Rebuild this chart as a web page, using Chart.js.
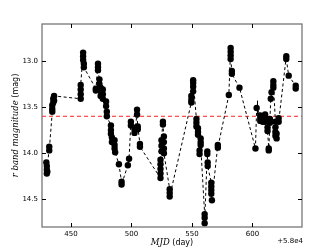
<!DOCTYPE html>
<html>
<head>
<meta charset="utf-8">
<script src="https://cdn.jsdelivr.net/npm/chart.js@4/dist/chart.umd.min.js"></script>
<style>
  html, body { margin: 0; padding: 0; background: #fff; }
  canvas { display: block; }
</style>
</head>
<body>
<canvas id="lc" width="336" height="252"></canvas>
<script>
// MJD - 58000 (day) and r band magnitude
const mjd = [
  429.6, 430.0, 430.0, 430.4, 430.0,
  432.0, 432.0,
  434.5, 434.5, 434.5, 435.3, 435.3, 436.0, 436.0,
  458.0, 458.0, 458.0, 458.0,
  460.0, 460.0, 460.0, 460.6, 460.6,
  470.5, 470.5,
  472.3, 472.3, 472.3,
  473.5, 473.5,
  474.5, 474.5, 474.5,
  476.3, 476.3, 476.3,
  479.0, 479.0, 479.6, 479.6,
  483.0, 483.0, 483.0, 483.8, 483.8,
  486.0, 486.0, 486.0, 486.5,
  489.6,
  491.8, 491.8,
  497.0, 498.0,
  499.5, 499.5,
  502.5, 502.5, 503.5,
  504.6, 504.6,
  505.2, 505.2,
  507.0, 507.0,
  524.0, 524.0, 524.0, 524.0, 524.0,
  524.8, 524.8, 524.8,
  526.0, 526.0,
  526.8, 526.8, 526.8, 526.8,
  531.6, 531.6, 531.6,
  549.5, 549.5, 549.5,
  551.0, 551.0, 551.0, 551.0,
  553.7, 553.7, 553.7,
  555.0, 555.0, 555.0,
  556.3, 556.3,
  557.2, 557.2, 557.2,
  560.5, 560.5, 560.5,
  562.7, 562.7, 563.0, 563.0,
  566.0, 566.0, 566.0, 566.0, 566.5,
  571.4, 571.4,
  580.5,
  582.0, 582.0, 582.0, 582.0,
  583.0, 583.0,
  589.3,
  602.5,
  603.5,
  606.5, 606.5, 606.5,
  608.5, 608.5,
  610.5, 610.5, 610.5,
  612.5, 612.5,
  613.5, 613.5,
  614.5, 614.5,
  615.2, 615.8,
  617.3, 617.3, 617.3,
  619.0, 619.0, 619.0, 619.0,
  620.0, 620.0,
  621.7, 621.7,
  628.0, 628.0,
  630.0,
  635.8, 635.8
];
const mag = [
  14.10, 14.14, 14.18, 14.20, 14.22,
  13.93, 13.97,
  13.55, 13.52, 13.48, 13.45, 13.41, 13.43, 13.38,
  13.41, 13.36, 13.31, 13.26,
  12.91, 12.95, 12.99, 13.03, 13.07,
  13.30, 13.32,
  13.03, 13.07, 13.10,
  13.20, 13.25,
  13.29, 13.33, 13.38,
  13.31, 13.36, 13.41,
  13.44, 13.49, 13.55, 13.60,
  13.70, 13.75, 13.79, 13.83, 13.88,
  13.86, 13.91, 13.95, 13.99,
  14.12,
  14.31, 14.34,
  14.13, 14.06,
  13.66, 13.70,
  13.74, 13.78, 13.72,
  13.53, 13.58,
  13.74, 13.71,
  13.90, 13.93,
  14.27, 14.22, 14.17, 14.12, 14.07,
  13.98, 13.92, 13.86,
  13.66, 13.69,
  13.82, 13.88, 13.95, 14.00,
  14.39, 14.43, 14.47,
  13.45, 13.42, 13.38,
  13.33, 13.28, 13.24, 13.21,
  13.63, 13.67, 13.71,
  13.73, 13.77, 13.80,
  13.97, 14.01,
  13.84, 13.88, 13.91,
  14.66, 14.70, 14.76,
  13.98, 14.01, 14.10, 14.14,
  14.32, 14.36, 14.40, 14.44, 14.51,
  13.91, 13.94,
  13.37,
  12.86, 12.90, 12.94, 12.98,
  13.11, 13.14,
  13.29,
  13.95,
  13.51,
  13.59, 13.62, 13.65,
  13.62, 13.66,
  13.58, 13.62, 13.66,
  13.72, 13.76,
  13.95, 13.97,
  13.67, 13.63,
  13.41, 13.34,
  13.29, 13.26, 13.22,
  13.66, 13.72, 13.77, 13.81,
  13.79, 13.84,
  13.62, 13.66,
  12.95, 12.98,
  13.16,
  13.27, 13.30
];
// one visible error bar
const errDay = [603.5];
const errLo = [13.43];
const errHi = [13.58];

const meanMag = 13.6;
const xTicks = [450, 500, 550, 600];
const yTicks = [13.0, 13.5, 14.0, 14.5];
const xRange = [426, 641];
const yRange = [12.6, 14.8];

const lcPoints = mjd.map((d, i) => ({ x: d, y: mag[i] }));

const frame = {
  id: 'frame',
  beforeDatasetsDraw(chart) {
    const ctx = chart.ctx;
    const xs = chart.scales.x, ys = chart.scales.y;
    ctx.save();
    ctx.strokeStyle = '#000';
    ctx.lineWidth = 1;
    for (let i = 0; i < errDay.length; i++) {
      const px = Math.round(xs.getPixelForValue(errDay[i])) + 0.5;
      ctx.beginPath();
      ctx.moveTo(px, ys.getPixelForValue(errLo[i]));
      ctx.lineTo(px, ys.getPixelForValue(errHi[i]));
      ctx.stroke();
    }
    ctx.restore();
  },
  afterDraw(chart) {
    const ctx = chart.ctx;
    const a = chart.chartArea;
    const xs = chart.scales.x, ys = chart.scales.y;
    ctx.save();
    ctx.strokeStyle = '#777';
    ctx.lineWidth = 1.3;
    ctx.strokeRect(a.left, a.top, a.right - a.left, a.bottom - a.top);
    ctx.strokeStyle = '#000';
    ctx.lineWidth = 1;
    xTicks.forEach(v => {
      const px = Math.round(xs.getPixelForValue(v)) + 0.5;
      ctx.beginPath();
      ctx.moveTo(px, a.bottom); ctx.lineTo(px, a.bottom - 4);
      ctx.moveTo(px, a.top); ctx.lineTo(px, a.top + 4);
      ctx.stroke();
    });
    yTicks.forEach(v => {
      const py = Math.round(ys.getPixelForValue(v)) + 0.5;
      ctx.beginPath();
      ctx.moveTo(a.left, py); ctx.lineTo(a.left + 4, py);
      ctx.moveTo(a.right, py); ctx.lineTo(a.right - 4, py);
      ctx.stroke();
    });

    // axis labels: math part in italic serif, units in sans
    ctx.fillStyle = '#000';
    ctx.textBaseline = 'middle';
    const serif = 'italic 8.5px "DejaVu Serif"';
    const sans = '8px "DejaVu Sans"';
    let p1 = 'MJD', p2 = ' (day)';
    ctx.font = serif; const w1 = ctx.measureText(p1).width;
    ctx.font = sans; const w2 = ctx.measureText(p2).width;
    let sx = (a.left + a.right) / 2 - (w1 + w2) / 2;
    ctx.textAlign = 'left';
    ctx.font = serif; ctx.fillText(p1, sx, 243);
    ctx.font = sans; ctx.fillText(p2, sx + w1, 243);

    p1 = 'r band magnitude'; p2 = ' (mag)';
    ctx.font = serif; const v1 = ctx.measureText(p1).width;
    ctx.font = sans; const v2 = ctx.measureText(p2).width;
    ctx.translate(16, (a.top + a.bottom) / 2);
    ctx.rotate(-Math.PI / 2);
    sx = -(v1 + v2) / 2;
    ctx.font = serif; ctx.fillText(p1, sx, 0);
    ctx.font = sans; ctx.fillText(p2, sx + v1, 0);
    ctx.setTransform(1, 0, 0, 1, 0, 0);

    ctx.font = '7px "DejaVu Sans"';
    ctx.textAlign = 'right';
    ctx.fillText('+5.8e4', a.right + 1, 241);
    ctx.restore();
  }
};

new Chart(document.getElementById('lc').getContext('2d'), {
  type: 'scatter',
  data: {
    datasets: [{
      data: lcPoints,
      showLine: true,
      borderColor: '#000',
      borderWidth: 1,
      borderDash: [3, 2.5],
      pointRadius: 3.2,
      pointBackgroundColor: '#000',
      pointBorderWidth: 0,
      tension: 0
    }, {
      data: [{ x: xRange[0], y: meanMag }, { x: xRange[1], y: meanMag }],
      showLine: true,
      borderColor: '#ff2020',
      borderWidth: 1,
      borderDash: [4, 3],
      pointRadius: 0
    }]
  },
  options: {
    responsive: false,
    animation: false,
    layout: { padding: { top: 24, right: 34, left: 0, bottom: 0 } },
    plugins: { legend: { display: false }, tooltip: { enabled: false } },
    scales: {
      x: {
        type: 'linear',
        min: xRange[0],
        max: xRange[1],
        afterBuildTicks: s => { s.ticks = xTicks.map(v => ({ value: v })); },
        afterFit: s => { s.height = 25; },
        grid: { display: false, drawTicks: false },
        border: { display: false },
        ticks: { color: '#000', font: { family: 'DejaVu Sans', size: 7 }, padding: 3, maxRotation: 0 }
      },
      y: {
        reverse: true,
        min: yRange[0],
        max: yRange[1],
        afterBuildTicks: s => { s.ticks = yTicks.map(v => ({ value: v })); },
        afterFit: s => { s.width = 42; },
        grid: { display: false, drawTicks: false },
        border: { display: false },
        ticks: { color: '#000', font: { family: 'DejaVu Sans', size: 7 }, padding: 4,
                 callback: v => v.toFixed(1) }
      }
    }
  },
  plugins: [frame]
});
</script>
</body>
</html>
